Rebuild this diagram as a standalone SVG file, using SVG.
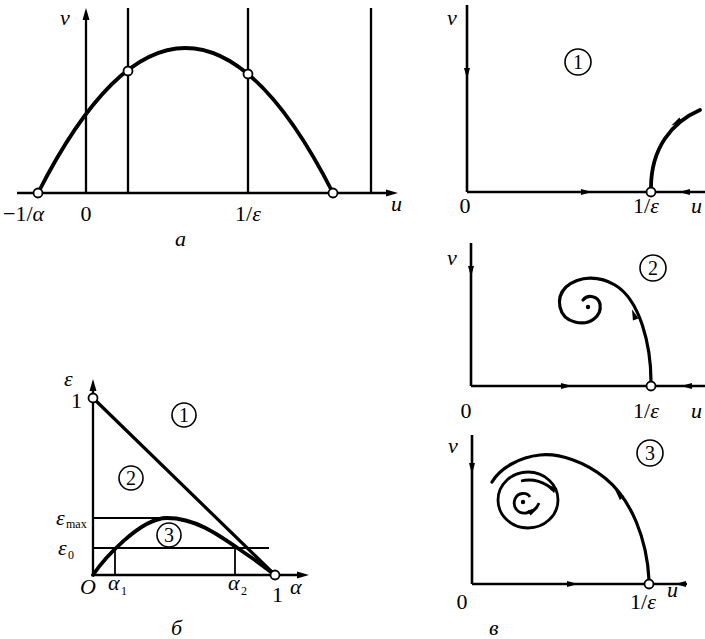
<svg xmlns="http://www.w3.org/2000/svg" xmlns:xlink="http://www.w3.org/1999/xlink" width="705" height="639" viewBox="0 0 705 639">
<style>
.ax{stroke:#000;stroke-width:2.3;fill:none}
.th{stroke:#000;stroke-width:1.8;fill:none}
.bold{stroke:#000;stroke-width:3.8;fill:none;stroke-linecap:round}
.oc{fill:#fff;stroke:#000;stroke-width:1.8}
.t{font-family:"Liberation Serif","DejaVu Serif",serif;font-size:22px;fill:#000}
.i{font-style:italic}
.s{font-size:12px}
.cl{fill:none;stroke:#000;stroke-width:1.6}
.cd{font-family:"Liberation Serif","DejaVu Serif",serif;font-size:20px;text-anchor:middle;fill:#000}
</style>
<defs>
<path id="ah" d="M3,0 L-8,-3 L-8,3 Z" fill="#000"/>
<path id="tip" d="M0,0 L-12,-3.5 L-12,3.5 Z" fill="#000"/>
</defs>

<g id="panel-a">
<line class="ax" x1="17" y1="193" x2="390" y2="193"/>
<use xlink:href="#tip" transform="translate(398,193)"/>
<line class="ax" x1="86" y1="193" x2="86" y2="18"/>
<use xlink:href="#tip" transform="translate(86,8) rotate(-90)"/>
<line class="ax" x1="128" y1="8" x2="128" y2="193"/>
<line class="ax" x1="248" y1="8" x2="248" y2="193"/>
<line class="ax" x1="371" y1="8" x2="371" y2="193"/>
<path class="bold" d="M38,193 Q185.5,-97 333,193"/>
<circle class="oc" cx="38" cy="193" r="4.5"/>
<circle class="oc" cx="128" cy="71" r="4.5"/>
<circle class="oc" cx="248" cy="74" r="4.5"/>
<circle class="oc" cx="333" cy="193" r="4.5"/>
<text class="t i" x="60" y="25">v</text>
<text class="t i" x="391" y="211">u</text>
<text class="t" x="3" y="221">−1/<tspan class="i">α</tspan></text>
<text class="t" x="86" y="221" text-anchor="middle">0</text>
<text class="t" x="248" y="221" text-anchor="middle">1/<tspan class="i">ε</tspan></text>
<text class="t i" x="175" y="246">а</text>
</g>

<g id="panel-b">
<line class="ax" x1="93" y1="575" x2="93" y2="390"/>
<use xlink:href="#tip" transform="translate(93,379) rotate(-90)"/>
<line class="ax" x1="93" y1="575" x2="300" y2="575"/>
<use xlink:href="#tip" transform="translate(309,575)"/>
<line class="th" x1="93" y1="518" x2="170" y2="518"/>
<line class="th" x1="93" y1="548" x2="269" y2="548"/>
<line class="th" x1="115" y1="548" x2="115" y2="575"/>
<line class="th" x1="235" y1="548" x2="235" y2="575"/>
<line class="bold" x1="93" y1="398" x2="275" y2="575" style="stroke-width:3.2"/>
<path class="bold" d="M93,575 C103,560 140,518 167,518 C200,518 225,540 255,560 L275,575"/>
<circle class="oc" cx="93" cy="398" r="4.5"/>
<circle class="oc" cx="275" cy="575" r="4.5"/>
<text class="t i" x="64" y="386">ε</text>
<text class="t" x="71" y="408">1</text>
<text class="t i" x="56" y="525">ε</text>
<text class="t s" x="66" y="528">max</text>
<text class="t i" x="58" y="555">ε</text>
<text class="t s" x="68" y="559">0</text>
<text class="t i" x="80" y="594">O</text>
<text class="t i" x="108" y="590">α</text>
<text class="t s" x="121" y="595">1</text>
<text class="t i" x="228" y="590">α</text>
<text class="t s" x="241" y="595">2</text>
<text class="t" x="272" y="602">1</text>
<text class="t i" x="290" y="594">α</text>
<text class="t i" x="171" y="635">б</text>
<circle class="cl" cx="184" cy="415" r="12"/>
<text class="cd" x="184" y="422">1</text>
<circle class="cl" cx="131" cy="478" r="12"/>
<text class="cd" x="131" y="485">2</text>
<circle class="cl" cx="169" cy="535" r="12"/>
<text class="cd" x="169" y="542">3</text>
</g>

<g id="panel-v1">
<line class="ax" x1="467" y1="5" x2="467" y2="192" style="stroke-width:2.6"/>
<line class="ax" x1="467" y1="192" x2="705" y2="192" style="stroke-width:2.6"/>
<use xlink:href="#ah" transform="translate(467,76) rotate(90)"/>
<use xlink:href="#ah" transform="translate(589,192)"/>
<use xlink:href="#ah" transform="translate(682,192) rotate(180)"/>
<path class="bold" d="M700,110 C672,122 651,148 651,188"/>
<use xlink:href="#ah" transform="translate(674,124) rotate(150)" />
<circle class="oc" cx="651" cy="192" r="4.5"/>
<circle class="cl" cx="578" cy="62" r="13"/>
<text class="cd" x="578" y="69">1</text>
<text class="t i" x="447" y="25">v</text>
<text class="t" x="465" y="213" text-anchor="middle">0</text>
<text class="t" x="646" y="213" text-anchor="middle">1/<tspan class="i">ε</tspan></text>
<text class="t i" x="691" y="213">u</text>
</g>

<g id="panel-v2">
<line class="ax" x1="471" y1="243" x2="471" y2="386" style="stroke-width:2.6"/>
<line class="ax" x1="471" y1="386" x2="705" y2="386" style="stroke-width:2.6"/>
<use xlink:href="#ah" transform="translate(471,274) rotate(90)"/>
<use xlink:href="#ah" transform="translate(569,386)"/>
<use xlink:href="#ah" transform="translate(684,386) rotate(180)"/>
<path class="bold" style="stroke-width:3.2" d="M651,382 C651,345 640,300 615,285 C600,276 580,275 566,287 C555,298 558,318 575,322 C590,326 602,316 600,304 C598,296 588,294 583,300"/>
<use xlink:href="#ah" transform="translate(633,312) rotate(-110)"/>
<circle cx="588" cy="307" r="2.2" fill="#000"/>
<circle class="oc" cx="651" cy="386" r="4.5"/>
<circle class="cl" cx="653" cy="268" r="13"/>
<text class="cd" x="653" y="275">2</text>
<text class="t i" x="447" y="265">v</text>
<text class="t" x="466" y="418" text-anchor="middle">0</text>
<text class="t" x="646" y="418" text-anchor="middle">1/<tspan class="i">ε</tspan></text>
<text class="t i" x="691" y="418">u</text>
</g>

<g id="panel-v3">
<line class="ax" x1="472" y1="435" x2="472" y2="584" style="stroke-width:2.6"/>
<line class="ax" x1="472" y1="584" x2="687" y2="584" style="stroke-width:2.6"/>
<use xlink:href="#ah" transform="translate(472,471) rotate(90)"/>
<use xlink:href="#ah" transform="translate(575,584)"/>
<use xlink:href="#ah" transform="translate(678,584) rotate(180)"/>
<path class="bold" style="stroke-width:3.2" d="M649,580 C647,540 632,500 605,478 C585,462 560,453 540,455 C520,457 500,468 492,482"/>
<use xlink:href="#ah" transform="translate(617,492) rotate(-130)"/>
<ellipse class="ax" cx="528" cy="500" rx="30" ry="28" style="stroke-width:2.8"/>
<path class="ax" style="stroke-width:2.8" d="M553,490 C545,482 533,478 521,481"/>
<use xlink:href="#ah" transform="translate(549,486) rotate(-145)"/>
<path class="ax" style="stroke-width:2.8" d="M530,497 C527,492 518,492 515,499 C512,507 518,514 526,513 C532,512 537,508 539,503"/>
<use xlink:href="#ah" transform="translate(536,509) rotate(-30)"/>
<circle cx="523" cy="502" r="2.2" fill="#000"/>
<circle class="oc" cx="649" cy="584" r="4.5"/>
<circle class="cl" cx="650" cy="453" r="13"/>
<text class="cd" x="650" y="460">3</text>
<text class="t i" x="448" y="453">v</text>
<text class="t" x="462" y="609" text-anchor="middle">0</text>
<text class="t" x="643" y="609" text-anchor="middle">1/<tspan class="i">ε</tspan></text>
<text class="t i" x="667" y="597">u</text>
<text class="t i" x="489" y="635">в</text>
</g>
</svg>
